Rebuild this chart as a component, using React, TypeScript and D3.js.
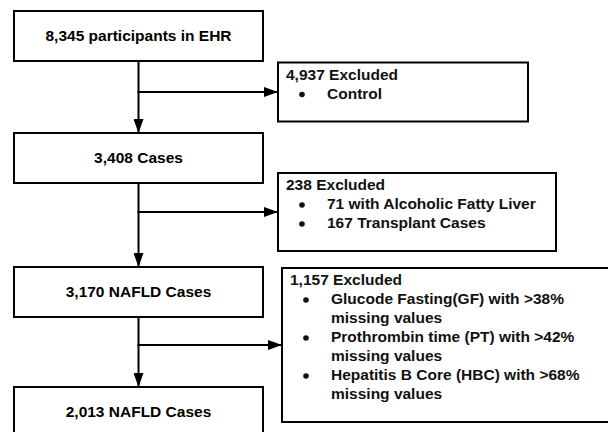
import React, { useEffect, useRef } from "react";
import * as d3 from "d3";

// main flow
const mainCounts = [8345, 3408, 3170, 2013];
const mainLabels = ["participants in EHR", "Cases", "NAFLD Cases", "NAFLD Cases"];

// exclusions between steps
const excludedCounts = [4937, 238, 1157];
const exclusionItems: string[][][] = [
  [["Control"]],
  [["71 with Alcoholic Fatty Liver"], ["167 Transplant Cases"]],
  [
    ["Glucode Fasting(GF) with >38%", "missing values"],
    ["Prothrombin time (PT) with >42%", "missing values"],
    ["Hepatitis B Core (HBC) with >68%", "missing values"],
  ],
];

const W = 608;
const H = 432;

export default function App() {
  const ref = useRef<SVGSVGElement>(null);

  useEffect(() => {
    const svg = d3.select(ref.current);
    svg.selectAll("*").remove();

    const fmt = d3.format(",");
    const font = "'Liberation Sans', Arial, sans-serif";
    const fs = 15.5;
    const lineH = 19;

    const boxX = 14, boxW = 249, boxH = 50;
    const cx = boxX + boxW / 2;
    const rowY = d3.scaleLinear().domain([0, 1, 2, 3]).range([11, 133, 267, 387]);
    const arrowY = d3.scaleLinear().domain([0, 1, 2]).range([92, 212, 345]);
    const exclX = [278, 278, 282];
    const exclW = [250, 278, 330];

    const defs = svg.append("defs");
    defs.append("marker")
      .attr("id", "head")
      .attr("viewBox", "0 0 14 10")
      .attr("refX", 14).attr("refY", 5)
      .attr("markerWidth", 14).attr("markerHeight", 10)
      .attr("markerUnits", "userSpaceOnUse")
      .attr("orient", "auto")
      .append("path").attr("d", "M0,0L14,5L0,10Z").attr("fill", "#000");

    // main boxes
    const main = svg.append("g").selectAll("g")
      .data(mainCounts.map((c, i) => ({ c, label: mainLabels[i], i })))
      .join("g");
    main.append("rect")
      .attr("x", boxX).attr("y", d => rowY(d.i))
      .attr("width", boxW).attr("height", boxH)
      .attr("fill", "#fff").attr("stroke", "#000").attr("stroke-width", 2);
    main.append("text")
      .attr("x", cx).attr("y", d => rowY(d.i) + boxH / 2)
      .attr("dy", "0.35em").attr("text-anchor", "middle")
      .attr("font-family", font).attr("font-weight", "bold").attr("font-size", fs)
      .text(d => `${fmt(d.c)} ${d.label}`);

    // connectors
    const links = svg.append("g").selectAll("g")
      .data(excludedCounts.map((c, i) => ({ c, i })))
      .join("g");
    links.append("line")
      .attr("x1", cx).attr("x2", cx)
      .attr("y1", d => rowY(d.i) + boxH)
      .attr("y2", d => rowY(d.i + 1))
      .attr("stroke", "#000").attr("stroke-width", 2)
      .attr("marker-end", "url(#head)");
    links.append("line")
      .attr("x1", cx - 1).attr("x2", d => exclX[d.i])
      .attr("y1", d => arrowY(d.i)).attr("y2", d => arrowY(d.i))
      .attr("stroke", "#000").attr("stroke-width", 2)
      .attr("marker-end", "url(#head)");

    // exclusion boxes
    links.each(function (d) {
      const g = d3.select(this);
      const items = exclusionItems[d.i];
      const nLines = 1 + d3.sum(items, it => it.length);
      const h = nLines * lineH + 21;
      const top = arrowY(d.i) - h / 2;
      const x0 = exclX[d.i];
      g.append("rect")
        .attr("x", x0).attr("y", top)
        .attr("width", exclW[d.i]).attr("height", h)
        .attr("fill", "#fff").attr("stroke", "#000").attr("stroke-width", 2);
      const t = g.append("g")
        .attr("font-family", font).attr("font-weight", "bold").attr("font-size", fs)
        .attr("fill", "#111");
      t.append("text")
        .attr("x", x0 + 8).attr("y", top + 12).attr("dy", "0.35em")
        .text(`${fmt(d.c)} Excluded`);
      let line = 1;
      items.forEach(it => {
        t.append("circle")
          .attr("cx", x0 + 24).attr("cy", top + 12 + line * lineH + 1)
          .attr("r", 2.8).attr("fill", "#111");
        it.forEach(s => {
          t.append("text")
            .attr("x", x0 + 49).attr("y", top + 12 + line * lineH).attr("dy", "0.35em")
            .text(s);
          line++;
        });
      });
    });
  }, []);

  return (
    <svg
      ref={ref}
      width={W}
      height={H}
      style={{ position: "absolute", left: 0, top: 0, background: "#fff" }}
    />
  );
}
